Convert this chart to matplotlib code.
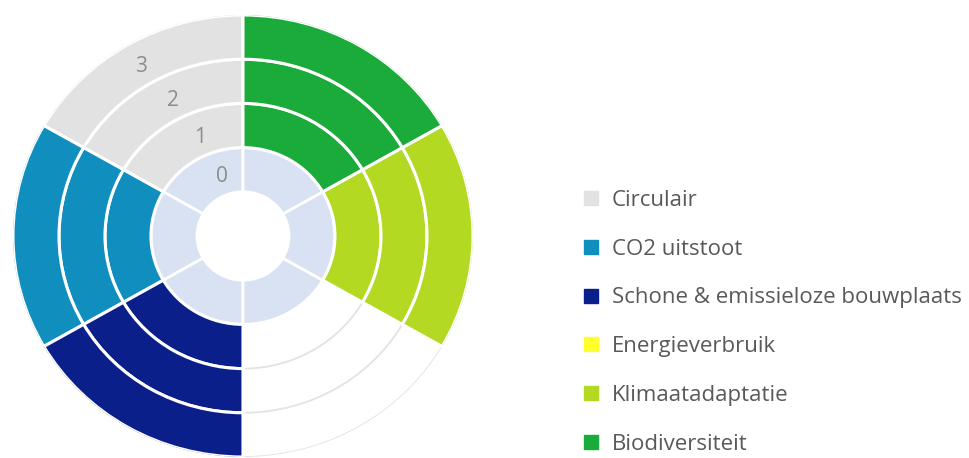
import numpy as np
import matplotlib
matplotlib.use("Agg")
import matplotlib.pyplot as plt
from matplotlib.lines import Line2D

# Data (legend order, drawn counterclockwise from the top)
categories = [
    "Circulair",
    "CO2 uitstoot",
    "Schone & emissieloze bouwplaats",
    "Energieverbruik",
    "Klimaatadaptatie",
    "Biodiversiteit",
]
scores = [3, 3, 3, 0, 3, 3]
colors = ["#e2e2e2", "#108fbe", "#0b1f8a", "#ffff2e", "#b3d923", "#1aab3a"]
level_labels = ["0", "1", "2", "3"]

base_color = "#d9e2f2"
grid_color = "#e3e3e3"
text_color = "#595959"

plt.rcParams["font.family"] = ["Open Sans", "DejaVu Sans"]

fig = plt.figure(figsize=(9.69, 4.58), dpi=100)
ax = fig.add_axes([0.0134, 0.0022, 0.4747, 0.965], projection="polar")
ax.set_aspect("auto")
ax.set_theta_zero_location("N")
ax.set_theta_direction(1)

n = len(categories)
width = 2 * np.pi / n
centers = np.arange(n) * width + width / 2
hole = 1.0
max_level = len(level_labels) - 1

# ring grid circles for empty segments
theta_full = np.linspace(0, 2 * np.pi, 361)
for r in range(2, max_level + 3):
    ax.plot(theta_full, np.full_like(theta_full, r), color=grid_color, lw=1.3, zorder=1)

# level 0 ring
ax.bar(centers, 1, width=width, bottom=hole, color=base_color,
       edgecolor="white", linewidth=2, zorder=2)

# score rings
for c, s, col in zip(centers, scores, colors):
    for lvl in range(1, s + 1):
        ax.bar(c, 1, width=width, bottom=hole + lvl, color=col,
               edgecolor="white", linewidth=2.2, zorder=3)

# level labels, lined up like the Excel axis labels
label_angles = np.deg2rad(np.linspace(19, 30, len(level_labels)))
for i, (ang, lab) in enumerate(zip(label_angles, level_labels)):
    ax.text(ang, hole + i + 0.42, lab, ha="center", va="center",
            fontsize=15, color="#8c8c8c", zorder=5)

ax.set_ylim(0, hole + max_level + 1)
ax.grid(False)
ax.set_xticks([])
ax.set_yticks([])
ax.spines["polar"].set_visible(False)

# legend
handles = [Line2D([0], [0], marker="s", linestyle="none", markersize=10.5,
                  markerfacecolor=col, markeredgecolor=col) for col in colors]
fig.legend(handles, categories, loc="upper left", bbox_to_anchor=(0.582, 0.6195),
           frameon=False, fontsize=16, labelcolor=text_color,
           handletextpad=0.45, labelspacing=1.25, handlelength=1.0,
           borderpad=0.2)

fig.savefig("out.png", dpi=100)
